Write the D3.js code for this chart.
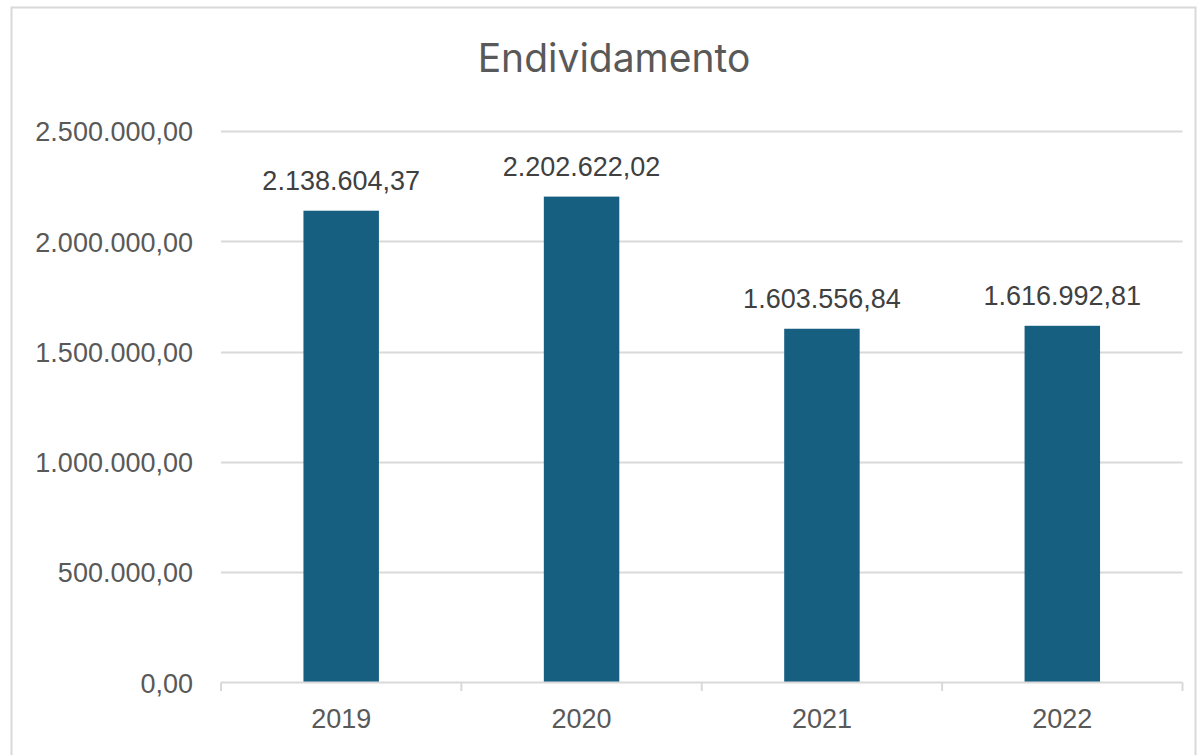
<!DOCTYPE html>
<html><head><meta charset="utf-8">
<script src="https://cdn.jsdelivr.net/npm/d3@7"></script>
<style>body{margin:0;background:#fff}svg{display:block}</style>
</head><body>
<script>
const categories = ["2019","2020","2021","2022"];
const values = [2138604.37, 2202622.02, 1603556.84, 1616992.81];
const tickValues = [0, 500000, 1000000, 1500000, 2000000, 2500000];
const title = "Endividamento";

const W = 1204, H = 755;
const fmt = v => {
  const s = v.toFixed(2).split(".");
  return s[0].replace(/\B(?=(\d{3})+(?!\d))/g, ".") + "," + s[1];
};
const svg = d3.select("body").append("svg").attr("width", W).attr("height", H);
svg.append("rect").attr("x", 11.5).attr("y", 7.5).attr("width", 1184).attr("height", 760)
  .attr("fill", "#fff").attr("stroke", "#d9d9d9").attr("stroke-width", 2);

const x = d3.scaleBand().domain(categories).range([221, 1182.5]).padding(0);
const y = d3.scaleLinear().domain([0, 2500000]).range([682.5, 131]);

svg.append("text").attr("x", 614).attr("y", 72).attr("text-anchor", "middle")
  .attr("font-family", "Inter, 'Noto Sans', sans-serif").attr("font-size", 39)
  .attr("fill", "#595959").text(title);

// gridlines
svg.append("g").selectAll("line").data(tickValues.filter(d => d > 0)).join("line")
  .attr("x1", 221).attr("x2", 1182.5).attr("y1", d => Math.round(y(d)) + 0.5).attr("y2", d => Math.round(y(d)) + 0.5)
  .attr("stroke", "#d9d9d9").attr("stroke-width", 2);

// y axis labels
const yAxis = d3.axisLeft(y).tickValues(tickValues).tickFormat(fmt).tickSize(0).tickPadding(0);
const gy = svg.append("g").attr("transform", "translate(193,0)").call(yAxis);
gy.select(".domain").remove();
gy.selectAll("text").attr("font-family", "'Liberation Sans', Arial, sans-serif").attr("font-size", 27)
  .attr("fill", "#595959").attr("dy", "0.36em");

// bars
const bw = x.bandwidth() * 0.314;
svg.append("g").selectAll("rect").data(categories).join("rect")
  .attr("x", (d) => x(d) + x.bandwidth()/2 - bw/2)
  .attr("width", bw)
  .attr("y", (d, i) => y(values[i]))
  .attr("height", (d, i) => y(0) - y(values[i]))
  .attr("fill", "#175f80");

// x axis
const xAxis = d3.axisBottom(x).tickSize(0).tickPadding(26);
const gx = svg.append("g").attr("transform", "translate(0,682.5)").call(xAxis);
gx.select(".domain").attr("stroke", "#d9d9d9").attr("stroke-width", 2).attr("d", "M221,0H1182.5");
gx.selectAll("text").attr("font-family", "'Liberation Sans', Arial, sans-serif").attr("font-size", 27).attr("fill", "#595959");
// category boundary ticks
const bounds = categories.map(c => x(c)).concat([x.range()[1]]);
svg.append("g").selectAll("line").data(bounds).join("line")
  .attr("x1", d => d).attr("x2", d => d).attr("y1", 682.5).attr("y2", 691)
  .attr("stroke", "#d9d9d9").attr("stroke-width", 2);

// data labels
svg.append("g").selectAll("text").data(categories).join("text")
  .attr("x", d => x(d) + x.bandwidth()/2)
  .attr("y", (d, i) => y(values[i]) - 21)
  .attr("text-anchor", "middle")
  .attr("font-family", "'Liberation Sans', Arial, sans-serif").attr("font-size", 27).attr("fill", "#404040")
  .text((d, i) => fmt(values[i]));
</script>
</body></html>
